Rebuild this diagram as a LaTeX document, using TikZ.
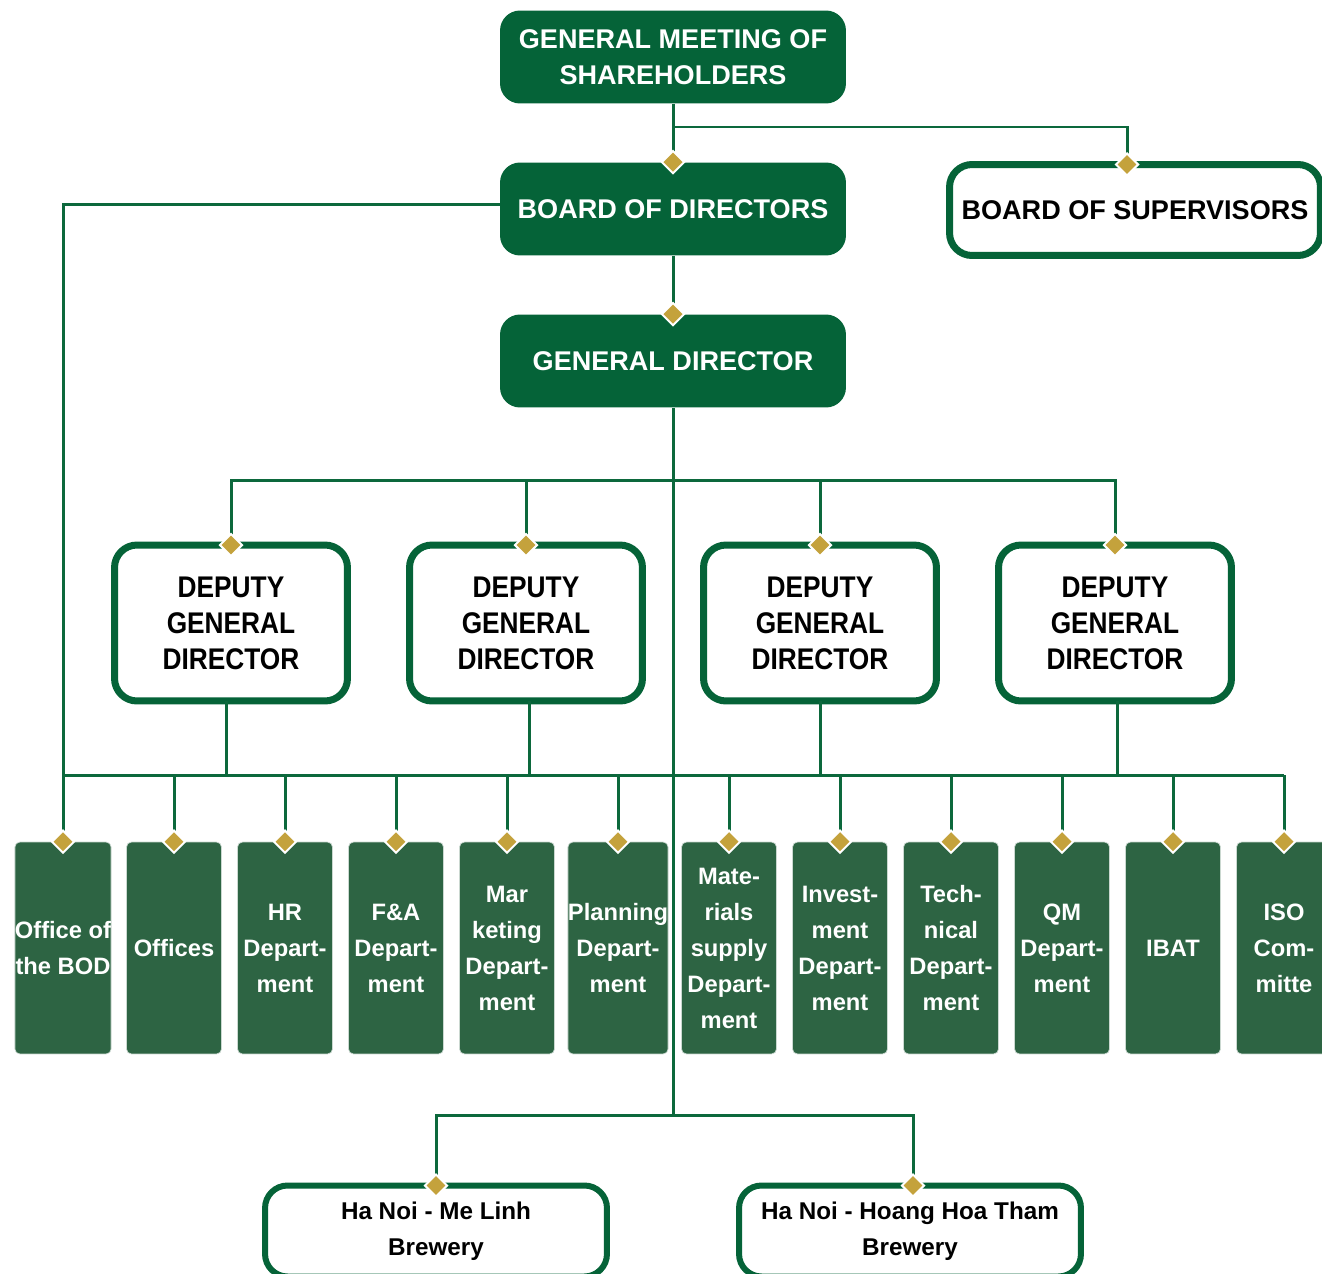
\documentclass[tikz,border=0pt]{standalone}
\usepackage{fontspec}
\setmainfont{Liberation Sans}
\newfontfamily\narrowfont[FakeStretch=0.88]{Liberation Sans}
\usetikzlibrary{shapes.geometric}
\definecolor{headgreen}{RGB}{5,99,56}
\definecolor{deptgreen}{RGB}{45,100,67}
\definecolor{linkgreen}{RGB}{12,104,60}
\definecolor{jointgold}{RGB}{196,162,60}
\tikzstyle{connector} = [line width=0.06cm, draw=linkgreen]
\tikzstyle{headbox} = [rectangle, rounded corners=0.4cm, fill=headgreen, text=white, minimum width=6.92cm, minimum height=1.86cm, align=center, font=\fontsize{15.4}{20.5}\selectfont\bfseries]
\tikzstyle{deputybox} = [rectangle, rounded corners=0.45cm, draw=headgreen, line width=0.14cm, fill=white, outer sep=0pt, minimum width=4.66cm, minimum height=3.12cm, align=center, font=\narrowfont\fontsize{17}{20.5}\selectfont\bfseries]
\tikzstyle{supervisorbox} = [deputybox, minimum width=7.42cm, minimum height=1.82cm, font=\fontsize{15.4}{20.5}\selectfont\bfseries]
\tikzstyle{brewerybox} = [deputybox, line width=0.12cm, minimum width=6.84cm, minimum height=1.82cm, font=\fontsize{13.8}{20.5}\selectfont\bfseries]
\tikzstyle{deptbox} = [rectangle, rounded corners=0.1cm, fill=deptgreen, draw=white!75!deptgreen, line width=0.4pt, text=white, inner sep=0pt, minimum width=1.9cm, minimum height=4.24cm, align=center, font=\fontsize{13.5}{20.5}\selectfont\bfseries]
\tikzstyle{joint} = [diamond, fill=jointgold, draw=white, line width=0.04cm, inner sep=0pt, minimum size=0.46cm]

\begin{document}
\begin{tikzpicture}[x=0.02cm, y=-0.02cm]
        \useasboundingbox (0,0) rectangle (1322,1274);
        % top of the chart
        \node (gms) [headbox] at (673,57) {GENERAL MEETING OF\\SHAREHOLDERS};
        \node (bod) [headbox] at (673,209) {BOARD OF DIRECTORS};
        \node (gd) [headbox] at (673,361) {GENERAL DIRECTOR};
        \node (bos) [supervisorbox] at (1135,210) {BOARD OF SUPERVISORS};
        % deputies
        \node (deputy-1) [deputybox] at (231,623) {DEPUTY\\GENERAL\\DIRECTOR};
        \node (deputy-2) [deputybox] at (526,623) {DEPUTY\\GENERAL\\DIRECTOR};
        \node (deputy-3) [deputybox] at (820,623) {DEPUTY\\GENERAL\\DIRECTOR};
        \node (deputy-4) [deputybox] at (1115,623) {DEPUTY\\GENERAL\\DIRECTOR};
        % departments
        \node (dept-1) [deptbox] at (63,948) {Office of\\the BOD};
        \node (dept-2) [deptbox] at (174,948) {Offices};
        \node (dept-3) [deptbox] at (285,948) {HR\\Depart-\\ment};
        \node (dept-4) [deptbox] at (396,948) {F\&A\\Depart-\\ment};
        \node (dept-5) [deptbox] at (507,948) {Mar\\keting\\Depart-\\ment};
        \node (dept-6) [deptbox] at (618,948) {Planning\\Depart-\\ment};
        \node (dept-7) [deptbox] at (729,948) {Mate-\\rials\\supply\\Depart-\\ment};
        \node (dept-8) [deptbox] at (840,948) {Invest-\\ment\\Depart-\\ment};
        \node (dept-9) [deptbox] at (951,948) {Tech-\\nical\\Depart-\\ment};
        \node (dept-10) [deptbox] at (1062,948) {QM\\Depart-\\ment};
        \node (dept-11) [deptbox] at (1173,948) {IBAT};
        \node (dept-12) [deptbox] at (1284,948) {ISO\\Com-\\mitte};
        % breweries
        \node (melinh) [brewerybox] at (436,1231) {Ha Noi - Me Linh\\Brewery};
        \node (hht) [brewerybox] at (910,1231) {Ha Noi - Hoang Hoa Tham\\Brewery};
        \coordinate (gms-split) at (673,127);
        \coordinate (deputy-split) at (673,480);
        \coordinate (dept-split) at (673,775);
        \coordinate (brewery-split) at (673,1115);
        \draw [connector] (gms.south) -- (bod.north);
        \draw [connector] (gms-split) -| ([xshift=-0.16cm]bos.north);
        \draw [connector] (bod.south) -- (gd.north);
        \draw [connector] ([yshift=0.1cm]bod.west) -| (dept-1.north);
        \draw [connector] (gd.south) -- (brewery-split);
        \draw [connector] (deputy-split) -| (deputy-1.north);
        \draw [connector] (deputy-split) -| (deputy-2.north);
        \draw [connector] (deputy-split) -| (deputy-3.north);
        \draw [connector] (deputy-split) -| (deputy-4.north);
        \draw [connector] ([xshift=-0.1cm]deputy-1.south) -- ([xshift=-0.1cm]deputy-1.south |- dept-split);
        \draw [connector] ([xshift=0.06cm]deputy-2.south) -- ([xshift=0.06cm]deputy-2.south |- dept-split);
        \draw [connector] (deputy-3.south) -- (deputy-3.south |- dept-split);
        \draw [connector] ([xshift=0.04cm]deputy-4.south) -- ([xshift=0.04cm]deputy-4.south |- dept-split);
        \draw [connector] (dept-split -| dept-1.north) -- (dept-split -| dept-12.north);
        \draw [connector] (dept-split -| dept-2.north) -- (dept-2.north);
        \draw [connector] (dept-split -| dept-3.north) -- (dept-3.north);
        \draw [connector] (dept-split -| dept-4.north) -- (dept-4.north);
        \draw [connector] (dept-split -| dept-5.north) -- (dept-5.north);
        \draw [connector] (dept-split -| dept-6.north) -- (dept-6.north);
        \draw [connector] (dept-split -| dept-7.north) -- (dept-7.north);
        \draw [connector] (dept-split -| dept-8.north) -- (dept-8.north);
        \draw [connector] (dept-split -| dept-9.north) -- (dept-9.north);
        \draw [connector] (dept-split -| dept-10.north) -- (dept-10.north);
        \draw [connector] (dept-split -| dept-11.north) -- (dept-11.north);
        \draw [connector] (dept-split -| dept-12.north) -- (dept-12.north);
        \draw [connector] (brewery-split) -| (melinh.north);
        \draw [connector] (brewery-split) -| ([xshift=0.06cm]hht.north);
        % joints
        \node (joint-bod) [joint] at (bod.north) {};
        \node (joint-bos) [joint] at ([xshift=-0.16cm]bos.north) {};
        \node (joint-gd) [joint] at (gd.north) {};
        \node (joint-deputy-1) [joint] at (deputy-1.north) {};
        \node (joint-deputy-2) [joint] at (deputy-2.north) {};
        \node (joint-deputy-3) [joint] at (deputy-3.north) {};
        \node (joint-deputy-4) [joint] at (deputy-4.north) {};
        \node (joint-dept-1) [joint] at (dept-1.north) {};
        \node (joint-dept-2) [joint] at (dept-2.north) {};
        \node (joint-dept-3) [joint] at (dept-3.north) {};
        \node (joint-dept-4) [joint] at (dept-4.north) {};
        \node (joint-dept-5) [joint] at (dept-5.north) {};
        \node (joint-dept-6) [joint] at (dept-6.north) {};
        \node (joint-dept-7) [joint] at (dept-7.north) {};
        \node (joint-dept-8) [joint] at (dept-8.north) {};
        \node (joint-dept-9) [joint] at (dept-9.north) {};
        \node (joint-dept-10) [joint] at (dept-10.north) {};
        \node (joint-dept-11) [joint] at (dept-11.north) {};
        \node (joint-dept-12) [joint] at (dept-12.north) {};
        \node (joint-melinh) [joint] at (melinh.north) {};
        \node (joint-hht) [joint] at ([xshift=0.06cm]hht.north) {};
    \end{tikzpicture}
\end{document}
